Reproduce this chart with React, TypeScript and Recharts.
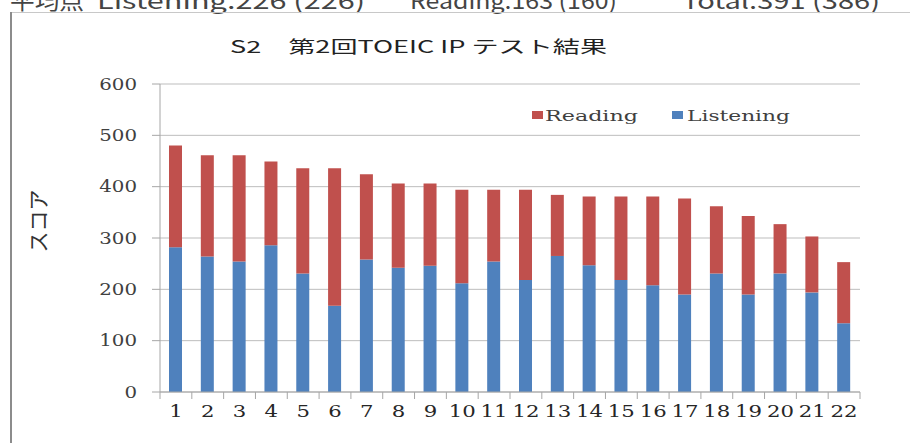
import React from 'react';
import { BarChart, Bar, XAxis, YAxis, CartesianGrid } from 'recharts';

const categories = ['1', '2', '3', '4', '5', '6', '7', '8', '9', '10', '11', '12', '13', '14', '15', '16', '17', '18', '19', '20', '21', '22'];
const listening = [282, 264, 254, 286, 231, 168, 258, 242, 246, 212, 254, 218, 265, 247, 218, 208, 190, 231, 190, 231, 194, 134];
const reading = [198, 197, 207, 163, 205, 268, 166, 164, 160, 182, 140, 176, 119, 134, 163, 173, 187, 131, 153, 96, 109, 119];
const yTicks = [0, 100, 200, 300, 400, 500, 600];

const data = categories.map((name, i) => ({ name, Listening: listening[i], Reading: reading[i] }));

const W = 910;
const H = 443;
const margin = { top: 84, right: 50, bottom: 21, left: 0 };
const band = (W - 160 - margin.right) / categories.length;

const SERIF = '"DejaVu Serif", "Liberation Serif", serif';
const JP = '"Noto Sans CJK JP", "Noto Sans", sans-serif';
const RED = '#c0504d';
const BLUE = '#4f81bd';
const AXIS = '#a6a6a6';

const YTick = (props: any) => {
  const { x, y, payload } = props;
  const s = String(payload.value);
  return (
    <text x={x} y={y} dy="0.36em" textAnchor="end" fontFamily={SERIF} fontSize={16} fill="#404040"
      textLength={s.length * 12.6} lengthAdjust="spacingAndGlyphs">
      {s}
    </text>
  );
};

const XTick = (props: any) => {
  const { x, y, payload, index } = props;
  const s = String(payload.value);
  return (
    <g>
      <line x1={x - band / 2} x2={x - band / 2} y1={y} y2={y + 7} stroke={AXIS} />
      {index === categories.length - 1 && (
        <line x1={x + band / 2} x2={x + band / 2} y1={y} y2={y + 7} stroke={AXIS} />
      )}
      <text x={x} y={y + 19} dy="0.36em" textAnchor="middle" fontFamily={SERIF} fontSize={16} fill="#262626"
        textLength={s.length * 13.5} lengthAdjust="spacingAndGlyphs">
        {s}
      </text>
    </g>
  );
};

export default function App() {
  return (
    <div style={{ position: 'absolute', left: 0, top: 0, width: W, height: H, background: '#fff', overflow: 'hidden' }}>
      <div style={{ position: 'absolute', left: 0, top: 0 }}>
        <BarChart width={W} height={H} data={data} margin={margin} barSize={13}>
          <CartesianGrid vertical={false} stroke="#bdbdbd" />
          <XAxis dataKey="name" height={30} tickLine={false} axisLine={{ stroke: AXIS }} tickSize={0} tickMargin={0}
            tick={<XTick />} interval={0} />
          <YAxis width={160} domain={[0, 600]} ticks={yTicks} tickSize={8} tickMargin={15}
            tickLine={{ stroke: AXIS }} axisLine={{ stroke: AXIS }} tick={<YTick />} />
          <Bar dataKey="Listening" stackId="a" fill={BLUE} isAnimationActive={false} />
          <Bar dataKey="Reading" stackId="a" fill={RED} isAnimationActive={false} />
        </BarChart>
      </div>
      <svg width={W} height={H} style={{ position: 'absolute', left: 0, top: 0, pointerEvents: 'none' }}>
        {/* cut-off average line above the frame */}
        <g fontFamily={JP} fontSize={22} fill="#444">
          <text x={10} y={9} textLength={74} lengthAdjust="spacingAndGlyphs">平均点</text>
          <text x={97} y={9} textLength={268} lengthAdjust="spacingAndGlyphs">Listening:226 (226)</text>
          <text x={410} y={9} textLength={207} lengthAdjust="spacingAndGlyphs">Reading:163 (160)</text>
          <text x={682} y={9} textLength={198} lengthAdjust="spacingAndGlyphs">Total:391 (386)</text>
        </g>
        <line x1={10} x2={W} y1={12.5} y2={12.5} stroke="#c8c8c8" />
        <line x1={11} x2={11} y1={12} y2={H} stroke="#8c8c8c" strokeWidth={2} />
        <text x={230} y={53} fontFamily={JP} fontSize={17} fill="#222" textLength={377} lengthAdjust="spacingAndGlyphs">
          S2　第2回TOEIC IP テスト結果
        </text>
        <text x={38} y={221} transform="rotate(-90 38 221)" textAnchor="middle" dy="0.36em"
          fontFamily={JP} fontSize={21} fill="#333">スコア</text>
        <rect x={532} y={111} width={11} height={8} fill={RED} />
        <text x={545} y={121} fontFamily={SERIF} fontSize={15} fill="#404040" textLength={93} lengthAdjust="spacingAndGlyphs">Reading</text>
        <rect x={672} y={111} width={11} height={8} fill={BLUE} />
        <text x={687} y={121} fontFamily={SERIF} fontSize={15} fill="#404040" textLength={103} lengthAdjust="spacingAndGlyphs">Listening</text>
      </svg>
    </div>
  );
}
